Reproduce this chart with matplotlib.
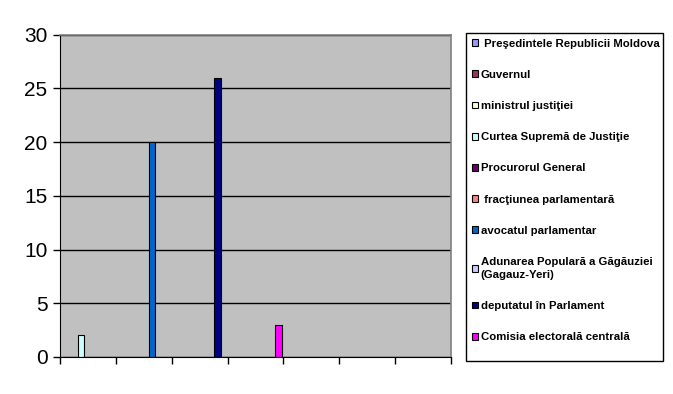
import numpy as np
import matplotlib
matplotlib.use("Agg")
import matplotlib.pyplot as plt
import matplotlib.patches as mpatches

plt.rcParams['font.family'] = ['Liberation Sans', 'DejaVu Sans']

# 7 unlabeled categories on the x axis
categories = ['1', '2', '3', '4', '5', '6', '7']

series_names = [
    ' Preşedintele Republicii Moldova',
    'Guvernul',
    'ministrul justiţiei',
    'Curtea Supremă de Justiţie',
    'Procurorul General',
    ' fracţiunea parlamentară',
    'avocatul parlamentar',
    'Adunarea Populară a Găgăuziei\n(Gagauz-Yeri)',
    'deputatul în Parlament',
    'Comisia electorală centrală',
]

series_colors = ['#9999FF', '#993366', '#FFFFCC', '#CCFFFF', '#660066',
                 '#FF8080', '#0066CC', '#CCCCFF', '#000080', '#FF00FF']

# values per series, one per category
vals_presedinte = [0, 0, 0, 0, 0, 0, 0]
vals_guvern = [0, 0, 0, 0, 0, 0, 0]
vals_ministru = [0, 0, 0, 0, 0, 0, 0]
vals_curtea = [2, 0, 0, 0, 0, 0, 0]
vals_procuror = [0, 0, 0, 0, 0, 0, 0]
vals_fractiune = [0, 0, 0, 0, 0, 0, 0]
vals_avocat = [0, 20, 0, 0, 0, 0, 0]
vals_adunarea = [0, 0, 0, 0, 0, 0, 0]
vals_deputat = [0, 0, 26, 0, 0, 0, 0]
vals_comisia = [0, 0, 0, 3, 0, 0, 0]

all_vals = [vals_presedinte, vals_guvern, vals_ministru, vals_curtea, vals_procuror,
            vals_fractiune, vals_avocat, vals_adunarea, vals_deputat, vals_comisia]

fig = plt.figure(figsize=(6.73, 3.94), dpi=100)
ax = fig.add_axes([0.0892, 0.094, 0.581, 0.818])
ax.set_facecolor('#C0C0C0')

x = np.arange(len(categories))
step = 0.09
for j, (vals, col) in enumerate(zip(all_vals, series_colors)):
    v = np.array(vals, dtype=float)
    v[v == 0] = np.nan
    ax.bar(x + 0.1 + j * step, v, width=0.11, color=col, edgecolor='black',
           linewidth=0.8, zorder=3)

ax.set_xlim(0, len(categories))
ax.set_ylim(0, 30)
ax.set_xticks(np.arange(len(categories) + 1))
ax.set_xticklabels([])
ax.set_yticks(np.arange(0, 31, 5))
ax.tick_params(axis='y', labelsize=15, length=5, width=1, pad=4)
ax.tick_params(axis='x', length=5, width=1)
ax.grid(axis='y', color='black', linewidth=1, zorder=1)
ax.set_axisbelow(True)

for s in ['top', 'right']:
    ax.spines[s].set_color('#808080')
    ax.spines[s].set_linewidth(1.2)
ax.spines['left'].set_color('black')
ax.spines['bottom'].set_color('black')
for s in ax.spines.values():
    s.set_zorder(4)

handles = [mpatches.Patch(facecolor=c, edgecolor='black', linewidth=0.8)
           for c in series_colors]
leg = fig.legend(handles, series_names, loc='upper left',
                 bbox_to_anchor=(466 / 673, 1 - 33 / 394),
                 prop={'size': 8.2, 'weight': 'bold'},
                 frameon=False,
                 handlelength=0.55, handleheight=0.55, handletextpad=0.25,
                 labelspacing=1.86, borderpad=0.5, borderaxespad=0)
leg.get_texts()[7].set_linespacing(1.35)

# legend box
fig.patches.append(mpatches.Rectangle((466 / 673, 1 - 361 / 394),
                                      197 / 673, 328 / 394,
                                      transform=fig.transFigure,
                                      fill=False, edgecolor='black', linewidth=1))

fig.savefig('out.png', dpi=100)
